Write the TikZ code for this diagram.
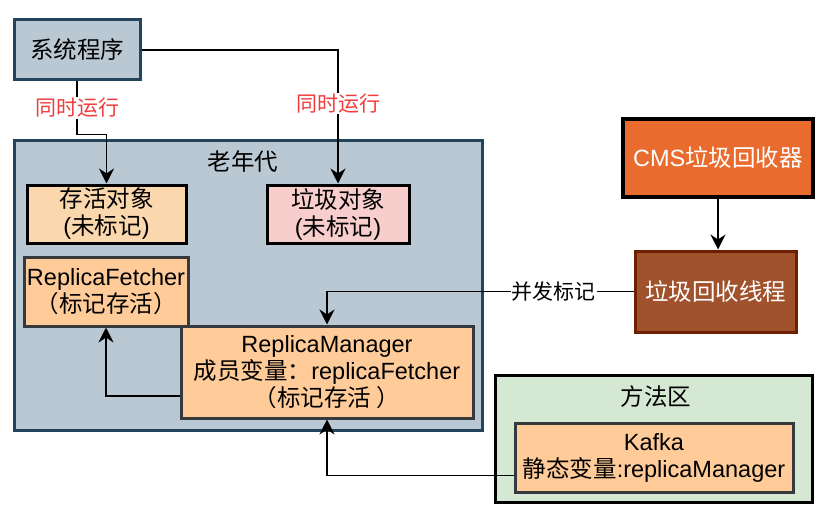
\documentclass[tikz,border=0pt]{standalone}
\usepackage{fontspec}
\setmainfont{Liberation Sans}
\newfontfamily\zh{Noto Sans CJK SC}
\usetikzlibrary{arrows.meta}
\definecolor{slate}{HTML}{BAC8D3}
\definecolor{slateline}{HTML}{23445D}
\definecolor{peach}{HTML}{FAD7AC}
\definecolor{apricot}{HTML}{FFCC99}
\definecolor{rose}{HTML}{F8CECC}
\definecolor{darkgrey}{HTML}{36393D}
\definecolor{flame}{HTML}{EA6B2E}
\definecolor{sienna}{HTML}{A0522D}
\definecolor{siennaline}{HTML}{6D1F00}
\definecolor{mint}{HTML}{D5E8D4}
\definecolor{redtext}{HTML}{F03C3C}
\tikzset{
  box/.style = {draw, line width=3pt, align=center, inner sep=0pt,
    font=\fontsize{23.5}{27}\selectfont},
  arr/.style = {-{Stealth[length=15pt,width=15pt,inset=5pt]}, line width=1.8pt},
  lbl/.style = {fill=white, inner sep=1pt, font=\fontsize{21}{24}\selectfont}
}

\begin{document}
\begin{tikzpicture}[x=1pt, y=-1pt]
  \useasboundingbox (0,0) rectangle (834,516);
  % containers
  \node [box, fill=slate, draw=slateline, minimum width=468pt, minimum height=290pt] (OLD) at (248,285) {};
  \node [font=\fontsize{23.5}{27}\selectfont] (OLDT) at (243,162) {\zh 老年代};
  \node [box, fill=mint, minimum width=317pt, minimum height=127pt] (MA) at (653.5,438.5) {};
  \node [font=\fontsize{23.5}{27}\selectfont] (MAT) at (656,397) {\zh 方法区};
  % boxes
  \node [box, fill=slate, draw=slateline, minimum width=126pt, minimum height=60pt] (SYS) at (77,50) {\zh 系统程序};
  \node [box, fill=peach, minimum width=159pt, minimum height=58pt] (LIVE) at (106.5,214) {{\zh 存活对象}\\({\zh 未标记})};
  \node [box, fill=rose, minimum width=142pt, minimum height=58pt] (GARB) at (338,214) {{\zh 垃圾对象}\\({\zh 未标记})};
  \node [box, fill=apricot, draw=darkgrey, minimum width=164pt, minimum height=69pt] (RF) at (106,291.5) {ReplicaFetcher\\{\zh （标记存活）}};
  \node [box, fill=apricot, draw=darkgrey, minimum width=292pt, minimum height=92pt] (RM) at (327,372) {ReplicaManager\\{\zh 成员变量：}replicaFetcher\\{\zh （标记存活 ）}};
  \node [box, fill=flame, line width=4pt, text=white, minimum width=190pt, minimum height=78pt] (CMS) at (718,158) {CMS{\zh 垃圾回收器}};
  \node [box, fill=sienna, draw=siennaline, text=white, minimum width=161pt, minimum height=81pt] (GCT) at (715.5,291.5) {\zh 垃圾回收线程};
  \node [box, fill=apricot, draw=darkgrey, minimum width=278pt, minimum height=69pt] (KF) at (654,457.5) {Kafka\\{\zh 静态变量}:replicaManager};
  % connectors
  \draw [arr] (SYS.south) -- node [lbl, text=redtext] {\zh 同时运行} ++(0,53) -| (LIVE.north);
  \draw [arr] (SYS.east) -| node [lbl, text=redtext, pos=0.7] {\zh 同时运行} (GARB.north);
  \draw [arr] (GCT.west) -| node [lbl, pos=0.13] {\zh 并发标记} (RM.north);
  \draw [arr] ([yshift=-24pt]RM.west) -| (RF.south);
  \draw [arr] ([yshift=-18pt]KF.west) -| (RM.south);
  \draw [arr] (CMS.south) -- (CMS.south |- GCT.north);
\end{tikzpicture}
\end{document}
